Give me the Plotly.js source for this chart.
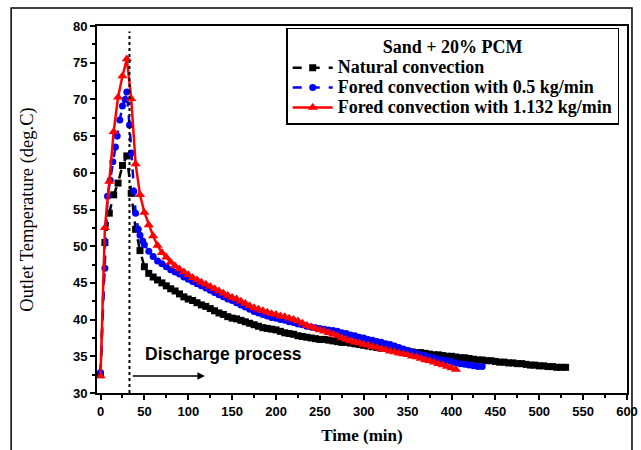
<!DOCTYPE html>
<html>
<head>
<meta charset="utf-8">
<script src="https://cdn.plot.ly/plotly-3.0.1.min.js"></script>
<style>html,body{margin:0;padding:0;background:#fff;}#chart{width:641px;height:450px;}</style>
</head>
<body>
<div id="chart"></div>
<script>
// Natural convection
var tNat = [0,5,10,15,20,25,30,35,40,45,50,55,60,65,70,75,80,85,90,95,100,105,110,115,120,125,130,135,140,145,150,155,160,165,170,175,180,185,190,195,200,205,210,215,220,225,230,235,240,245,250,255,260,265,270,275,280,285,290,295,300,305,310,315,320,325,330,335,340,345,350,355,360,365,370,375,380,385,390,395,400,405,410,415,420,425,430,435,440,445,450,455,460,465,470,475,480,485,490,495,500,505,510,515,520,525,530];
var TNat = [32.5,50.5,54.5,57.0,58.6,61.0,62.3,57.2,52.3,49.4,47.2,46.3,45.8,45.4,45.0,44.6,44.2,43.9,43.5,43.1,42.8,42.6,42.3,42.0,41.8,41.5,41.2,40.9,40.7,40.4,40.2,40.1,39.9,39.7,39.5,39.3,39.1,38.9,38.8,38.7,38.6,38.4,38.2,38.1,38.0,37.8,37.7,37.6,37.5,37.4,37.3,37.3,37.2,37.1,37.0,36.9,36.9,36.8,36.7,36.6,36.5,36.4,36.3,36.2,36.1,36.1,36.0,35.9,35.9,35.8,35.7,35.6,35.5,35.5,35.4,35.3,35.2,35.2,35.1,35.0,35.0,34.9,34.8,34.8,34.7,34.6,34.5,34.5,34.4,34.4,34.3,34.2,34.2,34.1,34.1,34.0,34.0,33.9,33.8,33.8,33.7,33.7,33.6,33.6,33.5,33.5,33.5];
// Forced convection 0.5 kg/min
var tBlue = [0,5,8,11,14,17,19,22,25,28,30,33,35,38,40,43,45,48,50,55,60,65,70,75,80,85,90,95,100,105,110,115,120,125,130,135,140,145,150,155,160,165,170,175,180,185,190,195,200,205,210,215,220,225,230,235,240,245,250,255,260,265,270,275,280,285,290,295,300,305,310,315,320,325,330,335,340,345,350,355,360,365,370,375,380,385,390,395,400,405,410,415,420,425,430,435];
var TBlue = [32.8,47.0,56.8,59.0,61.5,63.5,65.0,67.2,69.1,70.0,71.0,66.5,62.7,57.5,54.5,52.3,51.5,50.7,50.2,49.3,48.6,48.0,47.6,47.2,46.8,46.5,46.2,45.8,45.5,45.2,44.9,44.6,44.3,44.0,43.7,43.4,43.1,42.8,42.6,42.3,42.0,41.7,41.4,41.1,40.9,40.7,40.5,40.3,40.2,40.0,39.9,39.7,39.6,39.4,39.3,39.1,39.0,38.9,38.8,38.7,38.6,38.5,38.4,38.2,38.1,37.9,37.8,37.6,37.5,37.3,37.2,37.0,36.9,36.7,36.6,36.4,36.2,36.0,35.8,35.6,35.4,35.2,35.1,34.9,34.8,34.6,34.5,34.4,34.3,34.1,34.0,33.9,33.8,33.7,33.6,33.6];
// Forced convection 1.132 kg/min
var tRed = [0,5,10,15,20,25,30,35,40,45,50,55,60,65,70,75,80,85,90,95,100,105,110,115,120,125,130,135,140,145,150,155,160,165,170,175,180,185,190,195,200,205,210,215,220,225,230,235,240,245,250,255,260,265,270,275,280,285,290,295,300,305,310,315,320,325,330,335,340,345,350,355,360,365,370,375,380,385,390,395,400,405];
var TRed = [32.3,52.5,58.8,65.6,70.3,73.2,75.5,70.1,61.2,57.0,54.6,52.9,51.4,50.1,49.1,48.5,47.8,47.3,46.9,46.5,46.1,45.7,45.4,45.1,44.8,44.5,44.2,43.9,43.6,43.3,43.0,42.8,42.5,42.2,41.9,41.6,41.4,41.2,41.0,40.8,40.7,40.5,40.4,40.2,40.0,39.8,39.5,39.2,39.0,38.8,38.6,38.4,38.2,38.0,37.8,37.5,37.3,37.1,36.9,36.8,36.6,36.5,36.3,36.2,36.0,35.9,35.7,35.6,35.4,35.3,35.2,35.0,34.9,34.7,34.5,34.4,34.2,34.0,33.8,33.6,33.4,33.2];

var names = ['Natural convection','Fored convection with 0.5 kg/min','Fored convection with 1.132 kg/min'];
var xTicks = [0,50,100,150,200,250,300,350,400,450,500,550,600];
var yTicks = [30,35,40,45,50,55,60,65,70,75,80];
var dischargeStart = 33;
var arrowEnd = 119;
var arrowLevel = 32.3;

function big(s){ return '<span style="font-size:18px">' + s + '</span>'; }

var traces = [
  {x:tNat, y:TNat, name:big(names[0]), mode:'lines+markers', line:{color:'#000000', width:2.5, dash:'dash'}, marker:{symbol:'square', size:7, color:'#000000'}},
  {x:tBlue, y:TBlue, name:big(names[1]), mode:'lines+markers', line:{color:'#0000ff', width:2.5, dash:'dash'}, marker:{symbol:'circle', size:7, color:'#0000ff'}},
  {x:tRed, y:TRed, name:big(names[2]), mode:'lines+markers', line:{color:'#ff0000', width:2.5}, marker:{symbol:'triangle-up', size:9, color:'#ff0000'}}
];

var layout = {
  width:641, height:450,
  margin:{l:97, r:14, t:26, b:57},
  paper_bgcolor:'#ffffff', plot_bgcolor:'#ffffff',
  showlegend:true,
  legend:{
    x:0.357, y:0.995, xanchor:'left', yanchor:'top',
    bgcolor:'#ffffff', bordercolor:'#000000', borderwidth:1.5,
    font:{family:'Liberation Serif, Times New Roman, serif', size:13, color:'#000', weight:'bold'},
    title:{text:'<b>Sand + 20% PCM</b>', side:'top center', font:{family:'Liberation Serif, Times New Roman, serif', size:18, color:'#000'}},
    tracegroupgap:0, itemwidth:40
  },
  xaxis:{
    range:[-4,600], tickvals:xTicks, ticktext:xTicks.map(String),
    ticks:'outside', ticklen:5, tickwidth:2, tickcolor:'#000',
    minor:{dtick:25, tick0:0, ticks:'outside', ticklen:3, tickwidth:2, tickcolor:'#000'},
    showline:true, linewidth:2, linecolor:'#000', mirror:true,
    showgrid:false, zeroline:false,
    tickfont:{family:'Liberation Sans, Arial, sans-serif', size:13, color:'#000', weight:'bold'},
    title:{text:'<b>Time (min)</b>', font:{family:'Liberation Serif, Times New Roman, serif', size:17, color:'#000'}, standoff:12}
  },
  yaxis:{
    range:[30,80], tickvals:yTicks, ticktext:yTicks.map(String),
    ticks:'outside', ticklen:5, tickwidth:2, tickcolor:'#000',
    minor:{dtick:2.5, tick0:30, ticks:'outside', ticklen:3, tickwidth:2, tickcolor:'#000'},
    showline:true, linewidth:2, linecolor:'#000', mirror:true,
    showgrid:false, zeroline:false,
    tickfont:{family:'Liberation Sans, Arial, sans-serif', size:13, color:'#000', weight:'bold'},
    title:{text:'Outlet Temperature (deg.C)', font:{family:'Liberation Serif, Times New Roman, serif', size:18.5, color:'#000'}, standoff:34}
  },
  shapes:[
    {type:'line', xref:'x', yref:'paper', x0:dischargeStart, x1:dischargeStart, y0:0, y1:0.985, line:{color:'#000', width:2, dash:'dot'}},
    {type:'rect', xref:'paper', yref:'paper', x0:-0.162, x1:1.0094, y0:-0.3, y1:1.049, line:{color:'#000', width:1.5}, fillcolor:'rgba(0,0,0,0)', layer:'below'}
  ],
  annotations:[
    {x:arrowEnd, y:arrowLevel, ax:dischargeStart+2, ay:arrowLevel, xref:'x', yref:'y', axref:'x', ayref:'y', showarrow:true, arrowhead:2, arrowsize:1, arrowwidth:1.5, arrowcolor:'#000', text:''},
    {x:48, y:35.3, xref:'x', yref:'y', xanchor:'left', yanchor:'middle', showarrow:false, text:'<b>Discharge process</b>', font:{family:'Liberation Sans, Arial, sans-serif', size:17.5, color:'#000'}}
  ]
};

Plotly.newPlot('chart', traces, layout, {displayModeBar:false, staticPlot:true});
</script>
</body>
</html>
